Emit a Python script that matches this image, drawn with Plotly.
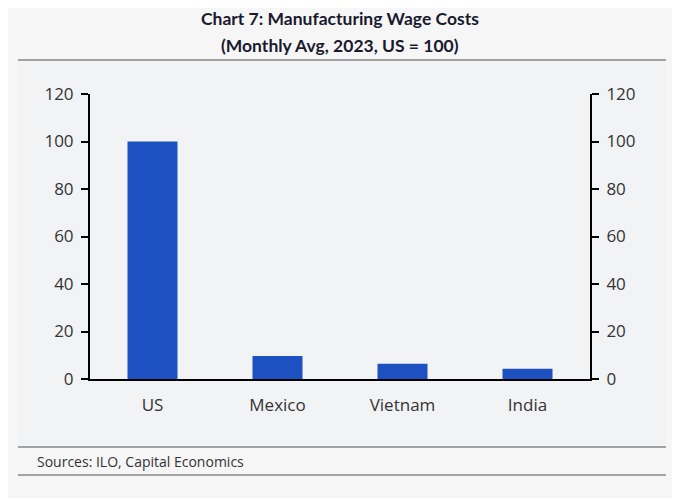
import plotly.graph_objects as go

# 数据
countries = ['US', 'Mexico', 'Vietnam', 'India']
wage_index = [100, 9.7, 6.4, 4.3]
y_ticks = [0, 20, 40, 60, 80, 100, 120]

title_1 = 'Chart 7: Manufacturing Wage Costs'
title_2 = '(Monthly Avg, 2023, US = 100)'
source = 'Sources: ILO, Capital Economics'

# 页面有 8px 的 body 边距，所以位置整体往左上移 8px
OFF = 8
W, H = 680, 498
L, R, T, B = 90 - OFF, 90 + OFF, 94 - OFF, 119 + OFF


def px_x(px):
    return (px - OFF - L) / (W - L - R)


def px_y(py):
    return (H - B - (py - OFF)) / (H - T - B)


fig = go.Figure()
fig.add_trace(go.Bar(x=countries, y=wage_index, marker_color='#1d50c0',
                     marker_line_width=0, showlegend=False))
# 右侧坐标轴需要一条看不见的 trace
fig.add_trace(go.Scatter(x=countries, y=wage_index, yaxis='y2', mode='markers',
                         marker=dict(opacity=0), hoverinfo='skip',
                         showlegend=False))

axis_style = dict(range=[0, 120], tickvals=y_ticks, ticks='outside', ticklen=7,
                  tickwidth=2, tickcolor='black', showline=True, linecolor='black',
                  linewidth=2, showgrid=False, zeroline=False,
                  tickfont=dict(family='Open Sans', size=17, color='#333333'))

fig.update_layout(
    width=W, height=H,
    margin=dict(l=L, r=R, t=T, b=B),
    paper_bgcolor='#f6f6f6',
    plot_bgcolor='rgba(0,0,0,0)',
    bargap=0.6,
    xaxis=dict(showline=True, linecolor='black', linewidth=2, ticks='',
               ticklabelstandoff=10,
               tickfont=dict(family='Open Sans', size=17, color='#333333')),
    yaxis=dict(**axis_style, ticklabelstandoff=4),
    yaxis2=dict(**axis_style, overlaying='y', side='right', ticklabelstandoff=4),
)

# 面板背景和分隔线
fig.add_shape(type='rect', xref='paper', yref='paper', layer='below',
              x0=px_x(18), x1=px_x(666), y0=px_y(447), y1=px_y(60),
              fillcolor='#f2f3f5', line_width=0)
for py in [60, 447, 475]:
    fig.add_shape(type='line', xref='paper', yref='paper',
                  x0=px_x(18), x1=px_x(666), y0=px_y(py), y1=px_y(py),
                  line=dict(color='#a3a3a3', width=2))

# 标题
for text, py in [(title_1, 18), (title_2, 46)]:
    fig.add_annotation(text='<b>' + text + '</b>', xref='paper', yref='paper',
                       x=px_x(340), y=px_y(py), showarrow=False,
                       xanchor='center', yanchor='middle',
                       font=dict(family='Lato', size=17.5, color='#1a1a2e'))

fig.add_annotation(text=source, xref='paper', yref='paper',
                   x=px_x(35), y=px_y(461), showarrow=False,
                   xanchor='left', yanchor='middle',
                   font=dict(family='Open Sans', size=14, color='#333333'))

fig.write_html('out.html')
